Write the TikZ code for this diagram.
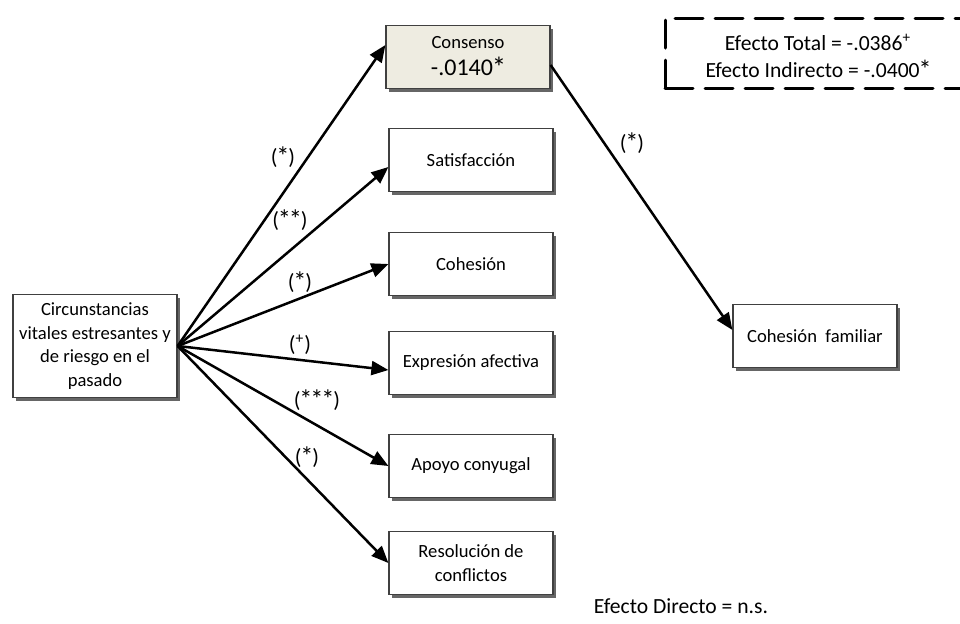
\documentclass[tikz,border=0pt]{standalone}
\usepackage{fontspec}
\setmainfont{Carlito}
\usepackage{xcolor}
\usetikzlibrary{arrows.meta, positioning, calc, shadows}
\definecolor{consfill}{HTML}{EEECE1}
\newcommand{\st}{\kern-0.05em\raisebox{-0.1ex}{\scalebox{1.2}{*}}\kern-0.05em}
\tikzset{
  varbox/.style={draw=black!75, line width=0.6pt, fill=white, align=center,
    minimum width=82pt, minimum height=31.5pt, inner sep=2pt,
    font=\fontsize{9.3}{11.7}\selectfont,
    drop shadow={shadow xshift=1.7pt, shadow yshift=-1.7pt, fill=black!60, opacity=1}},
  sig/.style={font=\fontsize{11}{13}\selectfont, inner sep=1pt},
  effbox/.style={line width=1.5pt, dash pattern=on 14pt off 6pt, line cap=round}
}

\begin{document}
\begin{tikzpicture}[x=0.5pt, y=-0.5pt, >={Triangle[length=8.5pt, width=7pt]}, line width=1.25pt]
    \useasboundingbox (0,0) rectangle (960,623);
    \clip (0,0) rectangle (960,623);

    % predictor
    \node[varbox, minimum height=51.5pt] (circ) at (95,346)
        {Circunstancias\\vitales estresantes y\\de riesgo en el\\pasado};

    % mediators
    \node[varbox, fill=consfill] (cons) at (468,57)
        {Consenso\\[1.8pt]{\fontsize{12}{14}\selectfont -.0140\st}};
    \node[varbox] (sat) at (471,160) {Satisfacción};
    \node[varbox] (coh) at (471,264) {Cohesión};
    \node[varbox] (expr) at (471,363) {Expresión afectiva};
    \node[varbox] (apoyo) at (471,466) {Apoyo conyugal};
    \node[varbox] (resol) at (471,563) {Resolución de\\conflictos};

    % outcome
    \node[varbox] (fam) at (815,336) {Cohesión~~familiar};

    % paths
    \draw[->] (circ.east) -- ([yshift=6pt]cons.west);
    \draw[->] (circ.east) -- ([yshift=-3.5pt]sat.west);
    \draw[->] (circ.east) -- (coh.west);
    \draw[->] (circ.east) -- ([yshift=-3.5pt]expr.west);
    \draw[->] (circ.east) -- (apoyo.west);
    \draw[->] (circ.east) -- (resol.west);
    \draw[->] ([yshift=-4pt]cons.east) -- ([yshift=3pt]fam.west);

    % significance
    \node[sig] (s1) at (283,157) {(\st)};
    \node[sig] (s2) at (290,220) {(\st\st)};
    \node[sig] (s3) at (300,282) {(\st)};
    \node[sig] (s4) at (300,345) {(\textsuperscript{+})};
    \node[sig] (s5) at (317,400) {(\st\st\st)};
    \node[sig] (s6) at (307,457) {(\st)};
    \node[sig] (s7) at (632,143) {(\st)};

    % effects
    \draw[effbox] (665,88) -- (665,18) -- (1000,18);
    \draw[effbox] (665,88) -- (1000,88);
    \node[font=\fontsize{10.8}{13.5}\selectfont, align=center] (eff) at (818,56)
        {Efecto Total = -.0386\textsuperscript{+}\\Efecto Indirecto = -.0400\st};
    \node[font=\fontsize{10.8}{13}\selectfont] (dir) at (681,606) {Efecto Directo = n.s.};
\end{tikzpicture}
\end{document}
